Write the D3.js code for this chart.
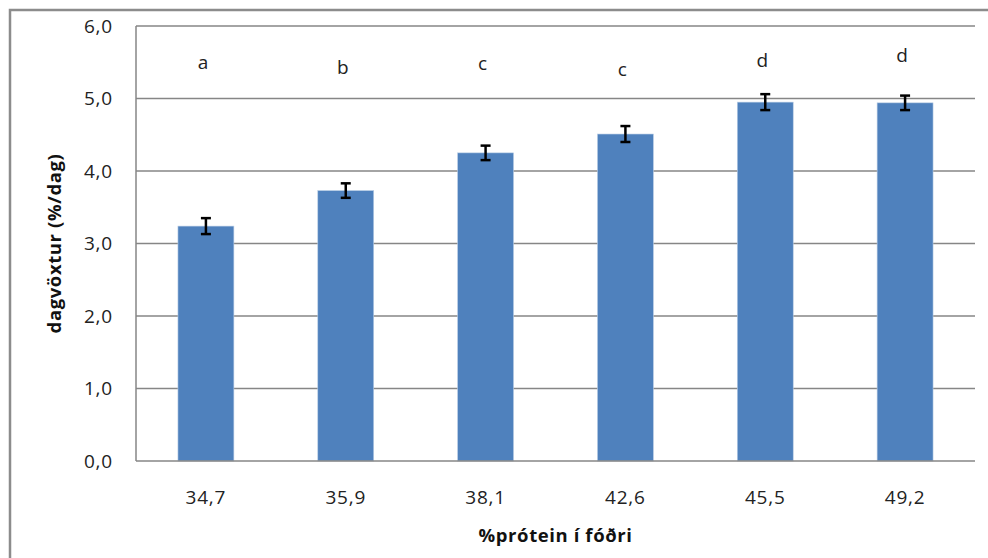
<!DOCTYPE html>
<html><head><meta charset="utf-8">
<script src="https://cdn.jsdelivr.net/npm/d3@7"></script>
<style>body{margin:0;background:#fff;} svg{display:block;}</style>
</head><body>
<svg id="chart" width="988" height="558"></svg>
<script>
const categories = ["34,7","35,9","38,1","42,6","45,5","49,2"];
const values = [3.24, 3.73, 4.25, 4.51, 4.95, 4.94];
const errors = [0.11, 0.10, 0.10, 0.11, 0.11, 0.10];
const groupLetters = ["a","b","c","c","d","d"];
const letterHeights = [5.5, 5.43, 5.48, 5.40, 5.53, 5.59];
const yTicks = [0,1,2,3,4,5,6];
const yTitle = "dagvöxtur (%/dag)";
const xTitle = "%prótein í fóðri";

const svg = d3.select("#chart");
const font = "'Open Sans', sans-serif";
const m = {left:136, right:975, top:26, bottom:461};

svg.append("rect").attr("x",10).attr("y",10).attr("width",1100).attr("height",700)
  .attr("fill","none").attr("stroke","#8c8c8c").attr("stroke-width",2.5);

const x = d3.scaleBand().domain(categories).range([m.left,m.right]).paddingInner(0.6).paddingOuter(0.3);
const y = d3.scaleLinear().domain([0,6]).range([m.bottom,m.top]);

// gridlines
svg.append("g").selectAll("line").data(yTicks.filter(d=>d>0)).join("line")
  .attr("x1",m.left).attr("x2",m.right).attr("y1",d=>y(d)).attr("y2",d=>y(d))
  .attr("stroke","#868686").attr("stroke-width",1.3);

// bars
svg.append("g").selectAll("rect").data(values).join("rect")
  .attr("x",(d,i)=>x(categories[i])).attr("width",x.bandwidth())
  .attr("y",d=>y(d)).attr("height",d=>y(0)-y(d))
  .attr("fill","#4F81BD").attr("stroke","#b9cde5").attr("stroke-width",0.6);

// axes lines
svg.append("line").attr("x1",m.left).attr("x2",m.left).attr("y1",m.top).attr("y2",m.bottom)
  .attr("stroke","#868686").attr("stroke-width",1.5);
svg.append("line").attr("x1",m.left).attr("x2",m.right).attr("y1",m.bottom).attr("y2",m.bottom)
  .attr("stroke","#868686").attr("stroke-width",1.5);

// error bars
const eg = svg.append("g").attr("stroke","#000");
values.forEach((v,i)=>{
  const cx = x(categories[i]) + x.bandwidth()/2;
  eg.append("line").attr("x1",cx).attr("x2",cx).attr("y1",y(v+errors[i])).attr("y2",y(v-errors[i])).attr("stroke-width",2.5);
  [v+errors[i], v-errors[i]].forEach(e=>{
    eg.append("line").attr("x1",cx-5).attr("x2",cx+5).attr("y1",y(e)).attr("y2",y(e)).attr("stroke-width",2.5);
  });
});

// y tick labels
svg.append("g").selectAll("text").data(yTicks).join("text")
  .attr("x",113).attr("y",d=>y(d)).attr("dy","0.35em").attr("text-anchor","end")
  .attr("font-family",font).attr("font-size",19).attr("letter-spacing",0.8).attr("fill","#222")
  .text(d=>d.toFixed(1).replace(".",","));

// x tick labels
svg.append("g").selectAll("text").data(categories).join("text")
  .attr("x",d=>x(d)+x.bandwidth()/2).attr("y",504).attr("text-anchor","middle")
  .attr("font-family",font).attr("font-size",19).attr("letter-spacing",0.8).attr("fill","#222")
  .text(d=>d);

// letters
svg.append("g").selectAll("text").data(groupLetters).join("text")
  .attr("x",(d,i)=>x(categories[i])+x.bandwidth()/2 - 3).attr("y",(d,i)=>y(letterHeights[i]))
  .attr("dy","0.35em").attr("text-anchor","middle")
  .attr("font-family",font).attr("font-size",19).attr("fill","#222")
  .text(d=>d);

// titles
svg.append("text").attr("x",(m.left+m.right)/2).attr("y",542).attr("text-anchor","middle")
  .attr("font-family",font).attr("font-weight","bold").attr("font-size",18.5).attr("letter-spacing",0.6).attr("fill","#111")
  .text(xTitle);
svg.append("text").attr("transform",`translate(61,${(m.top+m.bottom)/2}) rotate(-90)`)
  .attr("text-anchor","middle")
  .attr("font-family",font).attr("font-weight","bold").attr("font-size",18.5).attr("letter-spacing",0.6).attr("fill","#111")
  .text(yTitle);
</script>
</body></html>
